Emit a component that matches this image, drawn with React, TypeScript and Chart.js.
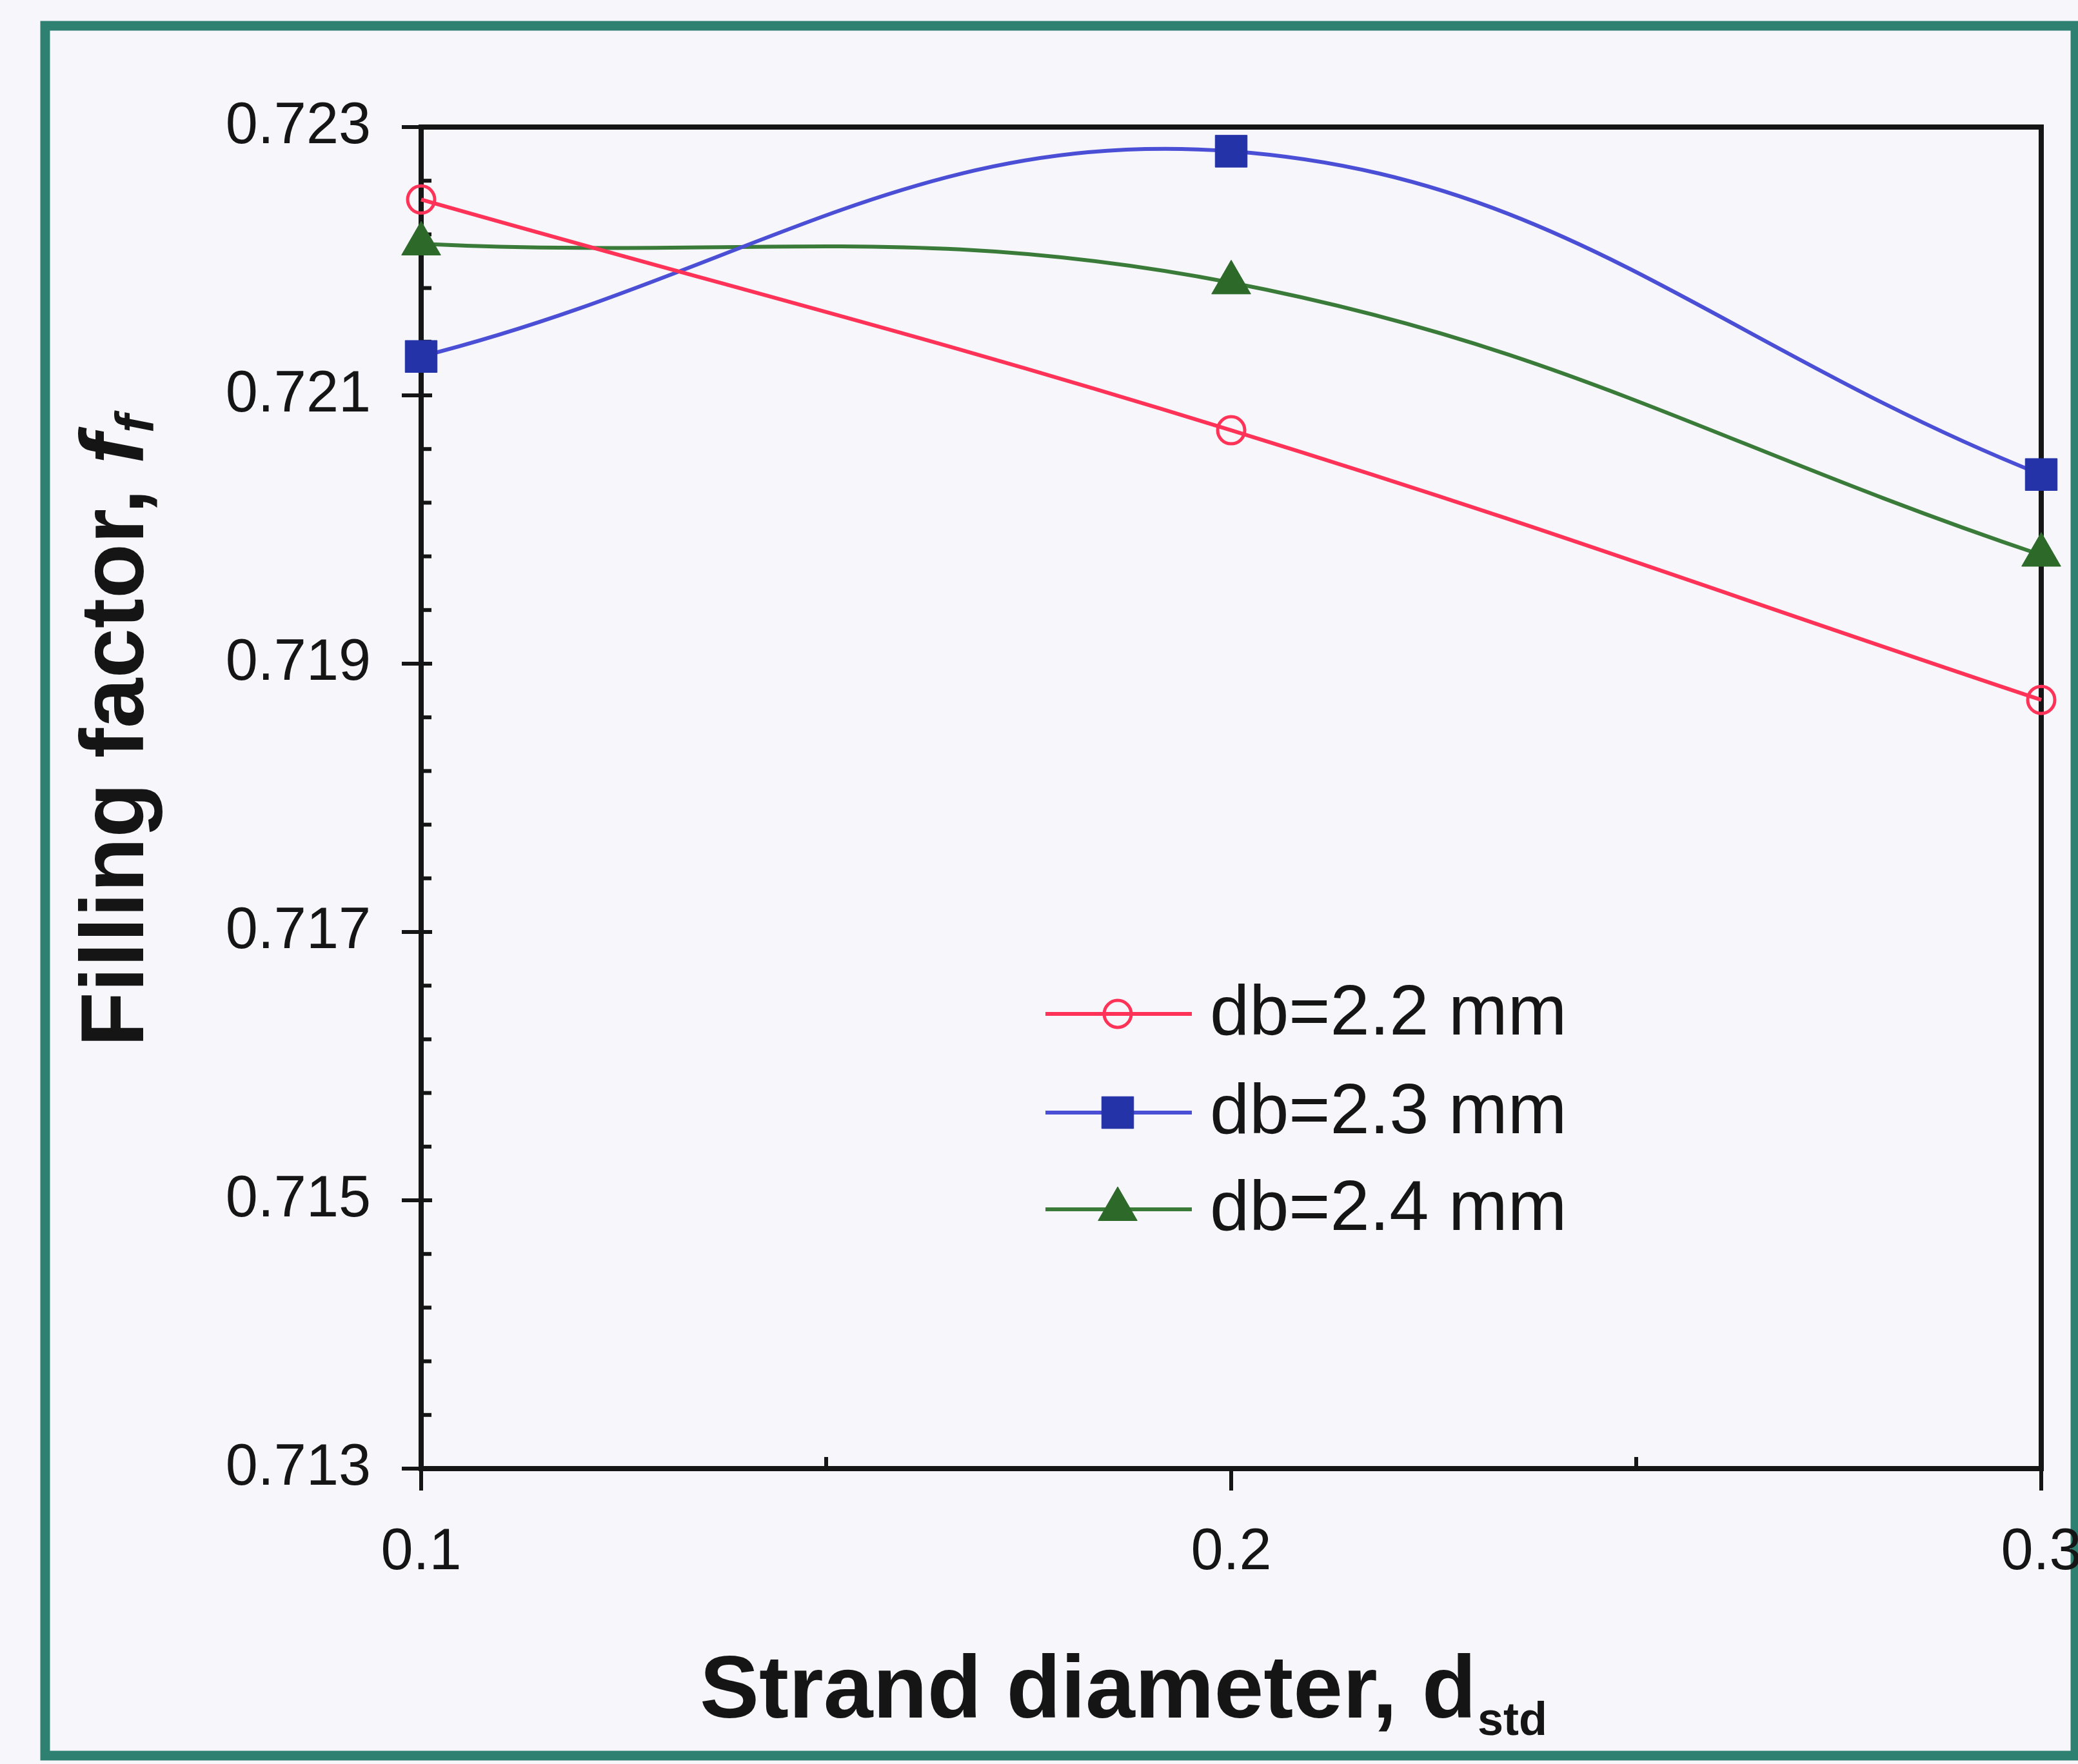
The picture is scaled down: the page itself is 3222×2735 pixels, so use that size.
import React, { useEffect, useRef } from "react";
import { Chart, registerables } from "chart.js";
import { drawPoint } from "chart.js/helpers";

Chart.register(...registerables);

// ---- data ----
const X_VALUES = [0.1, 0.2, 0.3];
const SERIES_LABELS = ["db=2.2 mm", "db=2.3 mm", "db=2.4 mm"];
const DB22 = [0.72246, 0.72074, 0.71873];
const DB23 = [0.72129, 0.72282, 0.72041];
const DB24 = [0.72213, 0.72184, 0.71981];
const Y_TICKS = [0.713, 0.715, 0.717, 0.719, 0.721, 0.723];
const X_TICKS = [0.1, 0.2, 0.3];
const X_MINOR_TICKS = [0.15, 0.25];
const Y_MINOR_STEP = 0.0004;
const X_TITLE = "Strand diameter, d";
const X_TITLE_SUB = "std";
const Y_TITLE = "Filling factor, ";
const Y_TITLE_ITALIC = "f";
const Y_TITLE_SUB = "f";

const W = 3222;
const H = 2735;
const FONT = '"Liberation Sans", Arial, Helvetica, sans-serif';
const INK = "#151515";

const RED_LINE = "#ff3358";
const BLUE_LINE = "#4b4fd6";
const BLUE_MARK = "#2433a8";
const GREEN_LINE = "#3a7b3a";
const GREEN_MARK = "#2d6a2a";

const framePlugin = {
  id: "frameTicks",
  beforeDraw(chart: any) {
    const ctx = chart.ctx;
    ctx.save();
    ctx.fillStyle = "#f7f7fb";
    ctx.fillRect(0, 0, W, H);
    ctx.strokeStyle = "#2e8070";
    ctx.lineWidth = 15;
    ctx.strokeRect(70, 40, 3148, 2682);
    ctx.restore();
  },
  beforeDatasetsDraw(chart: any) {
    const ctx = chart.ctx;
    const ca = chart.chartArea;
    const xs = chart.scales.x;
    const ys = chart.scales.y;
    ctx.save();
    ctx.strokeStyle = INK;
    ctx.lineCap = "butt";
    // frame
    ctx.lineWidth = 8;
    ctx.strokeRect(ca.left, ca.top, ca.right - ca.left, ca.bottom - ca.top);
    // y minor ticks (inside)
    ctx.lineWidth = 6;
    const n = Math.round((Y_TICKS[Y_TICKS.length - 1] - Y_TICKS[0]) / Y_MINOR_STEP);
    for (let i = 0; i <= n; i++) {
      const py = ys.getPixelForValue(Y_TICKS[0] + i * Y_MINOR_STEP);
      ctx.beginPath();
      ctx.moveTo(ca.left, py);
      ctx.lineTo(ca.left + 16, py);
      ctx.stroke();
    }
    // y major ticks (cross)
    for (const v of Y_TICKS) {
      const py = ys.getPixelForValue(v);
      ctx.beginPath();
      ctx.moveTo(ca.left - 30, py);
      ctx.lineTo(ca.left + 17, py);
      ctx.stroke();
    }
    // x major ticks (outside)
    for (const v of X_TICKS) {
      const px = xs.getPixelForValue(v);
      ctx.beginPath();
      ctx.moveTo(px, ca.bottom);
      ctx.lineTo(px, ca.bottom + 34);
      ctx.stroke();
    }
    // x minor ticks (inside)
    for (const v of X_MINOR_TICKS) {
      const px = xs.getPixelForValue(v);
      ctx.beginPath();
      ctx.moveTo(px, ca.bottom);
      ctx.lineTo(px, ca.bottom - 18);
      ctx.stroke();
    }
    ctx.restore();
  },
  afterDraw(chart: any) {
    const ctx = chart.ctx;
    ctx.save();
    ctx.fillStyle = INK;
    ctx.textAlign = "left";
    ctx.textBaseline = "alphabetic";

    // X title
    ctx.font = `bold 138px ${FONT}`;
    ctx.fillText(X_TITLE, 1085, 2663);
    const xw = ctx.measureText(X_TITLE).width;
    ctx.font = `bold 72px ${FONT}`;
    ctx.fillText(X_TITLE_SUB, 1085 + xw + 2, 2690);

    // Y title (rotated)
    ctx.save();
    ctx.translate(222, 1623);
    ctx.rotate(-Math.PI / 2);
    ctx.font = `bold 139px ${FONT}`;
    ctx.fillText(Y_TITLE, 0, 0);
    const w1 = ctx.measureText(Y_TITLE).width;
    ctx.font = `italic bold 139px ${FONT}`;
    ctx.fillText(Y_TITLE_ITALIC, w1, 0);
    const w2 = ctx.measureText(Y_TITLE_ITALIC).width;
    ctx.font = `italic bold 84px ${FONT}`;
    ctx.fillText(Y_TITLE_SUB, w1 + w2 + 2, 16);
    ctx.restore();

    // Legend
    const rows = [1572, 1725, 1875];
    chart.data.datasets.forEach((ds: any, i: number) => {
      const y = rows[i];
      ctx.strokeStyle = ds.borderColor;
      ctx.lineWidth = ds.borderWidth;
      ctx.beginPath();
      ctx.moveTo(1621, y);
      ctx.lineTo(1848, y);
      ctx.stroke();
      ctx.fillStyle = ds.pointBackgroundColor;
      ctx.strokeStyle = ds.pointBorderColor;
      ctx.lineWidth = ds.pointBorderWidth;
      drawPoint(ctx, { pointStyle: ds.pointStyle, radius: ds.pointRadius, borderWidth: ds.pointBorderWidth, rotation: 0 }, 1733, y);
      ctx.fillStyle = INK;
      ctx.font = `110px ${FONT}`;
      ctx.textBaseline = "middle";
      ctx.fillText(SERIES_LABELS[i], 1876, y + 2);
    });
    ctx.restore();
  },
};

export default function App() {
  const ref = useRef<HTMLCanvasElement | null>(null);

  useEffect(() => {
    document.body.style.margin = "0";
    const canvas = ref.current;
    if (!canvas) return;
    const toPts = (ys: number[]) => X_VALUES.map((x, i) => ({ x, y: ys[i] }));
    const chart = new Chart(canvas, {
      type: "line",
      data: {
        datasets: [
          {
            label: SERIES_LABELS[0],
            data: toPts(DB22),
            borderColor: RED_LINE,
            borderWidth: 6,
            tension: 0.4,
            pointStyle: "circle",
            pointRadius: 21,
            pointBorderWidth: 5,
            pointBackgroundColor: "rgba(0,0,0,0)",
            pointBorderColor: RED_LINE,
            clip: false,
          },
          {
            label: SERIES_LABELS[1],
            data: toPts(DB23),
            borderColor: BLUE_LINE,
            borderWidth: 6,
            tension: 0.4,
            pointStyle: "rect",
            pointRadius: 35,
            pointBorderWidth: 1,
            pointBackgroundColor: BLUE_MARK,
            pointBorderColor: BLUE_MARK,
            clip: false,
          },
          {
            label: SERIES_LABELS[2],
            data: toPts(DB24),
            borderColor: GREEN_LINE,
            borderWidth: 6,
            tension: 0.4,
            pointStyle: "triangle",
            pointRadius: 35,
            pointBorderWidth: 1,
            pointBackgroundColor: GREEN_MARK,
            pointBorderColor: GREEN_MARK,
            clip: false,
          },
        ] as any,
      },
      options: {
        responsive: false,
        animation: false,
        devicePixelRatio: 1,
        layout: { padding: { top: 197, right: 57, left: 0, bottom: 0 } },
        plugins: { legend: { display: false }, tooltip: { enabled: false } },
        scales: {
          x: {
            type: "linear",
            min: 0.1,
            max: 0.3,
            grid: { display: false, drawTicks: false },
            border: { display: false },
            afterBuildTicks: (s: any) => {
              s.ticks = X_TICKS.map((v) => ({ value: v }));
            },
            afterFit: (s: any) => {
              s.height = H - 2277;
              s.paddingLeft = 0;
              s.paddingRight = 0;
            },
            ticks: {
              padding: 77,
              maxRotation: 0,
              autoSkip: false,
              color: INK,
              font: { family: FONT, size: 90 },
              callback: (v: any) => Number(v).toFixed(1),
            },
          },
          y: {
            type: "linear",
            min: 0.713,
            max: 0.723,
            grid: { display: false, drawTicks: false },
            border: { display: false },
            afterBuildTicks: (s: any) => {
              s.ticks = Y_TICKS.map((v) => ({ value: v }));
            },
            afterFit: (s: any) => {
              s.width = 653;
              s.paddingTop = 0;
              s.paddingBottom = 0;
            },
            ticks: {
              padding: 78,
              autoSkip: false,
              color: INK,
              font: { family: FONT, size: 90 },
              callback: (v: any) => Number(v).toFixed(3),
            },
          },
        },
      } as any,
      plugins: [framePlugin],
    });
    return () => chart.destroy();
  }, []);

  return (
    <div style={{ position: "absolute", left: 0, top: 0, width: W, height: H, background: "#f7f7fb" }}>
      <canvas ref={ref} width={W} height={H} style={{ width: W, height: H, display: "block" }} />
    </div>
  );
}
